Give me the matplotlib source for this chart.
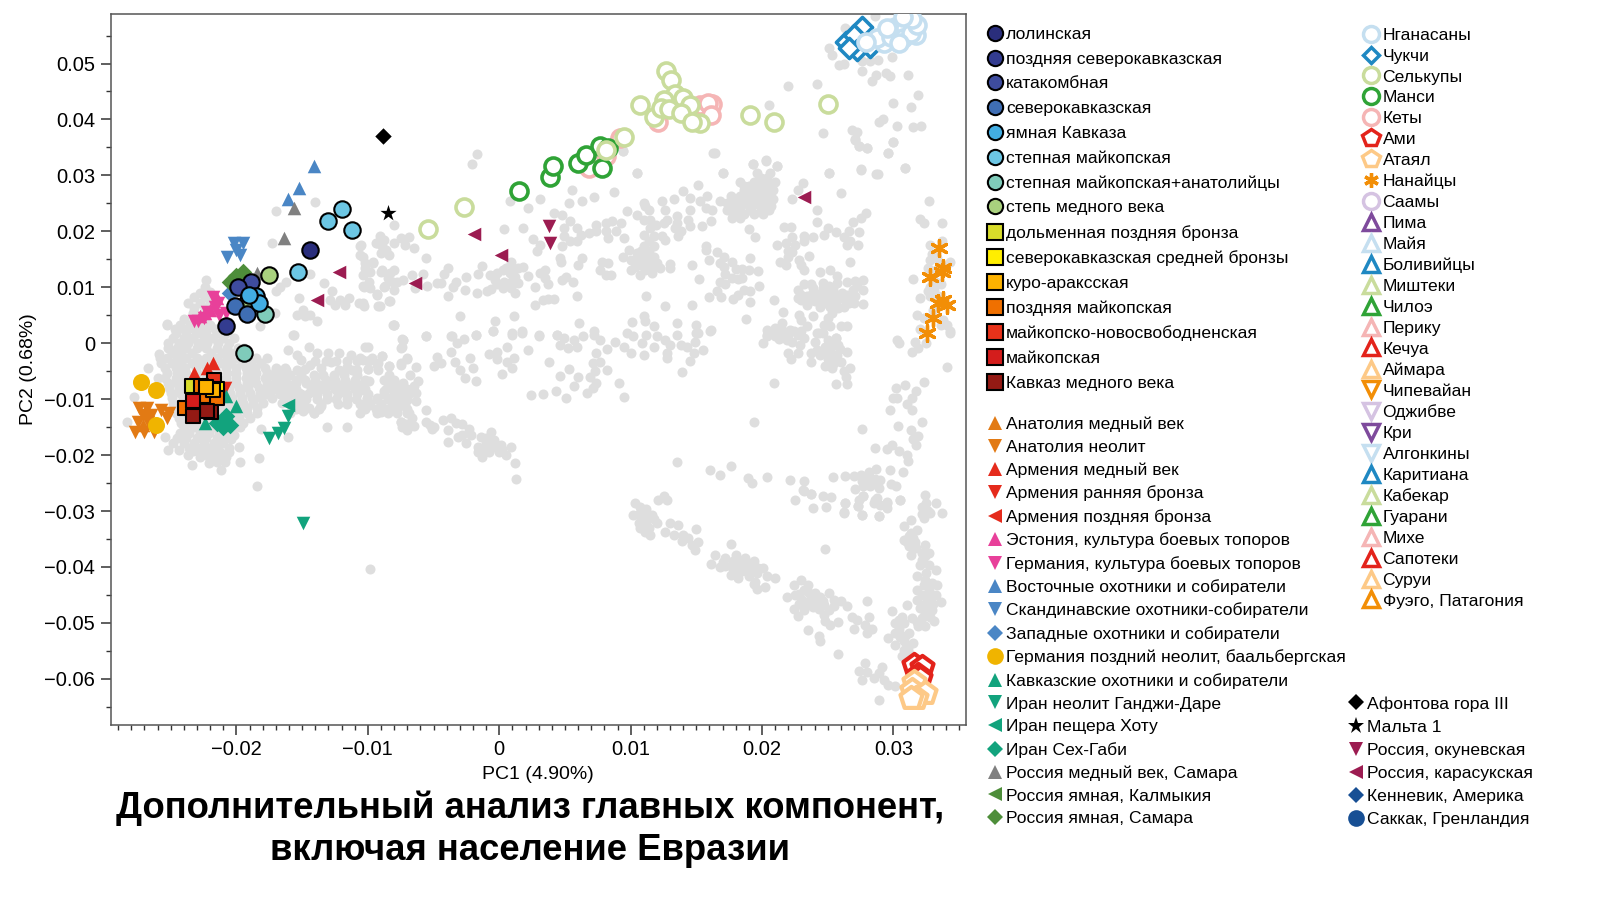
import matplotlib
matplotlib.use("Agg")
import matplotlib.pyplot as plt
from matplotlib.lines import Line2D
from matplotlib.ticker import MultipleLocator, FuncFormatter

plt.rcParams['font.family'] = ['Liberation Sans', 'DejaVu Sans']

# all PC values below are in thousandths
gray_west = [(-22.3,11.3),(-22.8,9),(-22,9.2),(-23.7,7.2),(-22.8,7.2),(-22,7.2),(-23.3,5.4),(-22.5,5.4),(-25.3,3.3),(-24.3,3.3),(-23.5,3.3),(-22.8,3.3),(-22,3.3),
(-24.6,1.8),(-23.8,1.8),(-23,1.8),(-22.3,1.8),(-21.5,1.8),(-20.8,1.8),(-25.2,0),(-24.4,0),(-23.7,0),(-22.9,0),(-22.2,0),(-21.4,0),(-20.6,0),
(-25.9,-1.9),(-24.9,-1.8),(-24.2,-1.8),(-23.4,-1.8),(-21.9,-1.8),(-21.1,-1.8),(-20.4,-1.8),(-25.7,-3.6),(-24.9,-3.6),(-24.2,-3.6),(-23.4,-3.6),(-22.7,-3.6),(-21.9,-3.6),(-21.1,-3.6),(-20.4,-3.6),(-19.6,-3.6),(-18.9,-3.6),(-18.1,-3.6),
(-25.3,-5.4),(-24.5,-5.4),(-23.8,-5.4),(-23,-5.4),(-22.2,-5.4),(-21.5,-5.4),(-20.7,-5.4),(-20,-5.4),(-19.2,-5.4),(-18.5,-5.4),(-17.7,-5.4),(-17,-5.4),(-16.2,-5.4),
(-25.2,-7.1),(-24.5,-7.1),(-23.8,-7.1),(-23,-7.1),(-22.2,-7.1),(-21.5,-7.1),(-20.7,-7.1),(-20,-7.1),(-19.2,-7.1),(-18.5,-7.1),(-17.7,-7.1),(-17,-7.1),(-16.2,-7.1),(-15.5,-7.1),(-14.7,-7.1),
(-25,-8.9),(-24.3,-8.9),(-23.5,-8.9),(-22.7,-8.9),(-22,-8.9),(-21.2,-8.9),(-20.5,-8.9),(-19.7,-8.9),(-19,-8.9),(-18.2,-8.9),(-17.5,-8.9),(-16.7,-8.9),(-16,-8.9),(-15.2,-8.9),(-14.5,-8.9),
(-24.8,-10.7),(-24,-10.7),(-23.2,-10.7),(-22.5,-10.7),(-21.7,-10.7),(-21,-10.7),(-20.2,-10.7),(-19.5,-10.7),(-18.7,-10.7),(-18,-10.7),(-16.5,-10.7),(-15.7,-10.7),(-14.9,-10.7),
(-24.6,-12.5),(-23.8,-12.5),(-23,-12.5),(-22.3,-12.5),(-21.5,-12.5),(-20.7,-12.5),(-20,-12.5),(-19.2,-12.5),(-18.4,-12.5),(-14.9,-12.2),(-14.1,-12.5),
(-24.2,-14.2),(-23.4,-14.4),(-22.7,-14.5),(-22,-14.4),(-21.2,-14.4),(-20.4,-14.3),(-19.5,-14.2),(-24.3,-16),(-23.6,-16),(-22.8,-16),(-22.1,-16),(-21.3,-16),(-20.6,-16),(-20.2,-16.4),
(-24.8,-17.9),(-24,-17.9),(-23.2,-17.9),(-22.5,-17.9),(-21.7,-17.9),(-21,-17.9),(-19.8,-18.5),(-25.2,-19.1),(-24.4,-19.1),(-23.7,-20),(-23.3,-19.2),(-22.6,-19.4),(-21.9,-19.6),(-21.2,-19.6),(-20.6,-19.4),
(-22.1,-21.5),(-21.5,-21.3),(-20.9,-21.2),(-21.2,-22.7),(-19.7,-21.2),(-23.4,-21.8),(-18.3,-20.6),(-18.4,-25.6),(-18.1,-15.4),(-16.1,-16.8),(-25.4,-16.7),
(-25.3,3.4),(-26.7,-4.5),(-25.8,-2.7),(-26,-6.3),(-27.8,-9.7),(-28.3,-14),(-17,23.7),(-14,25.2),(-17.3,18),(-14.4,12.4),(-13.3,10.7),(-12.7,9.4),(-15.2,8),
(-15.4,5.1),(-14.9,6),(-14.4,5.1),(-13.9,3.9),(-14.8,4.8),(-15.7,1.5),(-16.7,10.1),(-16.2,11),(-17,9.3),(-17.1,5.4),(-18.2,3.1)]

gray_west_fill = [(-22.4,10),(-22.4,8.2),(-23.2,8.2),(-23.2,6.3),(-22.4,6.3),(-21.6,6.3),(-24,4.4),(-23.2,4.4),(-22.4,4.4),(-24.7,2.6),(-24,2.6),(-23.2,2.6),(-22.4,2.6),(-21.6,2.6),
(-24.8,0.9),(-24,0.9),(-23.3,0.9),(-22.5,0.9),(-21.8,0.9),(-21,0.9),(-20.2,0.9),(-25.2,-0.9),(-24.5,-0.9),(-23.8,-0.9),(-23,-0.9),(-22.3,-0.9),(-21.5,-0.9),(-20.7,-0.9),(-19.9,-0.9),(-19.4,-0.9),
(-25.3,-2.7),(-24.5,-2.7),(-23.8,-2.7),(-23,-2.7),(-22.3,-2.7),(-21.5,-2.7),(-20.7,-2.7),(-20,-2.7),(-19.2,-2.7),(-18.5,-2.7),(-17.7,-2.7),
(-25.4,-4.5),(-24.6,-4.5),(-23.9,-4.5),(-23.1,-4.5),(-22.3,-4.5),(-21.6,-4.5),(-20.8,-4.5),(-20,-4.5),(-19.3,-4.5),(-18.6,-4.5),(-17.8,-4.5),(-17,-4.5),(-16.3,-4.5),
(-25.4,-6.2),(-24.6,-6.2),(-23.9,-6.2),(-23.1,-6.2),(-22.3,-6.2),(-21.6,-6.2),(-20.8,-6.2),(-20,-6.2),(-19.3,-6.2),(-18.6,-6.2),(-17.8,-6.2),
(-25.1,-8),(-24.4,-8),(-23.6,-8),(-22.9,-8),(-22.1,-8),(-21.3,-8),(-20.6,-8),(-19.8,-8),(-19.1,-8),(-18.3,-8),(-17.6,-8),
(-24.9,-9.8),(-24.1,-9.8),(-23.4,-9.8),(-22.6,-9.8),(-21.9,-9.8),(-21.1,-9.8),(-20.3,-9.8),(-19.6,-9.8),(-18.8,-9.8),(-18.1,-9.8),(-17.3,-9.8),
(-24.5,-11.6),(-23.7,-11.6),(-22.9,-11.6),(-22.2,-11.6),(-21.4,-11.6),(-20.7,-11.6),(-19.9,-11.6),(-19.2,-11.6),(-18.4,-11.6),(-15.2,-11.6),(-14.5,-11.6),
(-24.4,-13.4),(-23.6,-13.4),(-22.9,-13.4),(-22.1,-13.4),(-21.3,-13.4),(-20.6,-13.4),(-19.8,-13.4),(-19,-13.4),(-24,-15),(-23.2,-15),(-22.4,-15),(-21.7,-15),(-21,-15),(-20.2,-15),(-19.7,-15),
(-24.5,-17),(-23.8,-17),(-23,-17),(-22.3,-17),(-21.5,-17),(-20.8,-17),(-20.4,-17.2),(-23.6,-18.7),(-22.8,-18.7),(-22.1,-18.7),(-21.4,-18.7),(-20.6,-18.7),(-22.8,-20.3),(-22.1,-20.3),(-21.5,-20.3),(-20.8,-20.3)]

gray_band = [(-16.1,-1.3),(-15.4,-2.1),(-14.5,-0.6),(-13.9,-1.8),(-13,-1.8),(-12.2,-1.8),(-11.3,-2.1),(-10.6,-2.7),(-9.8,-3),(-8.9,-2.2),(-8.4,-4.1),(-10,-0.7),(-7.3,0.6),(-7.4,-0.7),(-7,-2.7),(-7.5,-3.9),(-8,3.3),(-15.6,1.5),
(-15.1,-3),(-14.4,-3.9),(-14.8,-4.6),(-13.6,-4.5),(-12.8,-3.3),(-11.6,-4.2),(-10.8,-4.8),(-10,-4.6),(-9.3,-3.9),
(-17.4,-5.6),(-16.7,-5.6),(-15.9,-5.6),(-15.1,-5.6),(-14.1,-5.6),(-13.4,-5.6),(-12.6,-5.6),(-11.8,-5.6),(-10.8,-5.6),(-8.4,-5.6),
(-17.4,-7.4),(-16.7,-7.4),(-15.9,-7.4),(-14.4,-7.4),(-13.6,-7.4),(-12.9,-7.4),(-12.1,-7.4),(-11.3,-7.4),(-10.6,-7.4),(-8.3,-7.4),(-7.5,-7.4),
(-17.7,-9.1),(-16.7,-9.1),(-15.9,-9.1),(-15.1,-9.1),(-13.9,-9.1),(-13.1,-9.1),(-12.3,-9.1),(-11.6,-9.1),(-10.8,-9.1),(-10,-9.1),(-8.8,-9.1),(-8,-9.1),(-7.3,-9.1),
(-15.9,-10.8),(-15.1,-10.8),(-13.6,-10.8),(-12.3,-10.8),(-11.6,-10.8),(-10.6,-10.8),(-9.8,-10.8),(-9,-10.8),(-8,-10.8),(-7.3,-10.8),
(-15.9,-12.5),(-14.1,-12.5),(-10.6,-12.5),(-9.3,-12.5),(-8.5,-12.5),(-7.8,-12.5),(-7,-12.5),(-7.5,-14),(-7.1,-14.5),(-13.1,-14.9),(-11.6,-14.9),(-13.6,-11.3),
(-6.5,-14.8),(-10.6,17.3),(-10.6,15.8),(-10.2,14.3),(-9.6,14.6),(-10.1,12.8),(-10.3,10.1),(-9.8,9.9),(-9.3,17.9),(-8.8,18.5),(-8.6,16.7),(-9,12.8),(-8.3,12.5),(-8.8,10.1),(-8.1,11),
(-12.9,7.8),(-12.1,7.8),(-11.4,8),(-10.7,7.2),(-10.3,6.6),(-11.7,6.9),(-12.5,6.9),(-9.3,8.6),(-8.4,7.5),(-9.2,6.6),(-8.1,3.3)]

gray_band_fill = [(-17,-4.8),(-16.2,-4.8),(-15.4,-4.8),(-12.2,-4.8),(-11.2,-4.8),(-9.2,-4.8),
(-17,-6.5),(-16.3,-6.5),(-15.5,-6.5),(-14.8,-6.5),(-14,-6.5),(-13.2,-6.5),(-12.5,-6.5),(-11.7,-6.5),(-11,-6.5),(-10.2,-6.5),(-8.8,-6.5),(-8,-6.5),
(-17.2,-8.2),(-16.3,-8.2),(-15.5,-8.2),(-14,-8.2),(-13.3,-8.2),(-12.5,-8.2),(-11.7,-8.2),(-11,-8.2),(-10.2,-8.2),(-8.6,-8.2),(-7.8,-8.2),(-7,-8.2),
(-16.3,-10),(-15.5,-10),(-14.7,-10),(-13.9,-10),(-13.1,-10),(-12.4,-10),(-11.6,-10),(-10.9,-10),(-10.1,-10),(-9.3,-10),(-8.5,-10),(-7.7,-10),(-7,-10),
(-15.5,-11.7),(-13.7,-11.7),(-10.2,-11.7),(-9.4,-11.7),(-8.6,-11.7),(-7.8,-11.7),(-7,-11.7),(-14,-3.2),(-13.2,-3.2),(-12.4,-3.2),(-11.6,-3.2),(-10.8,-3.2),(-10,-3.2)]

gray_center = [(-1.7,33.8),(-2.1,32.1),(-8,21.1),(-9.1,19.1),(-9.4,17.9),(-8.9,17.3),(-9,16.1),(-8.4,15.8),(-8,17.9),(-7.5,18.8),(-6.9,18.9),(-7.2,17.6),(-6.5,17),(-10.5,17.6),
(-10.4,15.5),(-9.6,14.3),(-10.2,13.4),(-9.8,12.8),(-10.4,12.2),(-9.9,11),(-10.4,10.2),(-8.9,13.1),(-8,13),(-8.5,11.6),(-8.7,10.2),(-8,9.6),(-7.8,11),(-7.3,11.3),(-6.6,12.2),(-5.8,12.4),(-5.6,15.2),(-5.5,10.2),(-6.4,9.9),(-9.3,8.8),(-8.3,7.5),(-9.1,6.6),(-10.4,7.2),
(-4.7,10.7),(-4.4,10.7),(-4.2,12.4),(-3.9,13.4),(-3.3,11),(-3.5,10),(-3.9,8.5),(-2.5,11.9),(-2.6,9.6),(-1.7,9),(-1.6,12.4),(-1.3,13.8),(-0.9,9.4),(-0.6,9.7),
(-0.7,12.2),(-0.2,12.5),(0.3,13.1),(0.9,14.6),(1.4,13.4),(1.8,13.7),(-0.3,11.3),(0.8,12.5),(1.2,11.9),(1.4,10.8),(-0.2,10.5),(0.3,9.9),(0.9,9.9),(1.2,9),(0.9,11),(2.2,12.1),(2.7,10),(0.5,13.4),(1,13.2),(0.4,11),
(0.4,20.5),(1.8,20.6),(0.8,25.4),(2.2,24.2),(3.1,25.8),(2.6,18.7),(3.1,17.6),(2.9,16.4),(4.8,17.3),(4.6,15.2),(4.7,14.6),(6.3,15.2),(6,13.9),(3.1,12.5),(3.5,13.1),(3.5,11.6),(3.7,10.6),(4.8,11.3),(5.1,11.9),(5.6,10.9),(5.9,8.5),(2.7,6.9),(3.3,7.8),(3.7,7.9),(4.2,7.9),
(5.5,27.4),(5.3,25.1),(6.3,25.5),(7.2,26.1),(8.7,27),(10.5,30.4),(9.7,23.6),(9.4,34.3),(4.2,23.3),(4.8,23),
(5.4,21.8),(4.9,20.6),(5.9,20.6),(6.2,19.4),(4.9,19.1),(5.4,18.2),(5.9,18.2),(6.8,19.7),(7.4,21.2),(7.4,20),(8.1,21.5),(8.6,21.8),(8.1,20),(8.3,18.8),(8.9,20),(9.5,18.8),(9.3,21.5),
(7.8,14.6),(8.3,14.3),(7.7,13.1),(8.1,12.2),(8.5,12.2),(11,25.1),(11.4,23.9),(10.5,23),(11,22.1),(11.9,21.2),(11.5,20.6),(11,19.4),(11.8,19.1),(11.5,22),(11.1,24.5),(11.4,18.2),
(9.9,16.7),(9.4,15.5),(10,14.9),(10.5,16.1),(11,17.3),(11.8,17.3),(11,15.5),(11.8,15.5),(10.5,14.3),(11.2,14.3),(12,14.3),(10,13.1),(10.7,12.2),(11.6,12.5),(11.1,13.1),(10.8,16.4),(11.4,16.4),(10.6,14.9),(11.4,14.9),(10.3,13.6),(11,13.6),(11.7,13.6),
(11.2,8.5),(11,4.8),(11.1,3.9),(10.1,3.8),(-3,4.8),(-8,3.2),(1.1,4.8),(-0.3,3.9),(-0.5,2.1),(1.7,2.2),(1,1.9),(6.1,3.6),(4.4,1.4),(3,1.4),(-1.8,1.4),(-3.7,1.2),(-5.6,1.2),(-7.4,0.7),(7.2,2.1),(9.7,1.8),(11.8,3)]

gray_asia = [(16.4,34),(19.3,32),(20.3,32.7),(21.1,31.6),(17,30.5),(15.1,28.2),(13.3,25.8),(12.4,25.5),(14,27.2),(14.5,26),(15.3,25.4),(15.8,26.3),(16.2,23.9),(16.8,25.4),(15.7,24.2),
(19.6,30.4),(20.6,30.4),(18.3,28.9),(19.4,28.9),(20.1,28.9),(21,28.9),(18.6,27.4),(19.4,27.4),(20.1,27.4),(20.8,27.4),(17.6,26.3),(18.3,26.3),(19.1,26.3),(19.9,26.3),(20.6,26.3),
(17.3,25),(18.1,25),(18.9,25),(19.6,25),(20.4,25),(17.3,23.9),(18.2,23.9),(19.1,23.9),(19.9,23.9),(20.5,23.9),(17.7,22.4),(18.3,22.4),
(19.9,29.6),(20.4,29.6),(18.6,28.1),(19,28.1),(19.8,28.1),(20.5,28.1),(18.9,26.9),(19.7,26.9),(20.4,26.9),(17.9,25.7),(18.7,25.7),(19.4,25.7),(20.2,25.7),(20.8,25.7),(17.6,24.5),(18.4,24.5),(19.2,24.5),(20,24.5),(20.7,24.5),(17.8,23.1),(18.6,23.1),(19.4,23.1),(20.1,23.1),
(23.1,28.6),(22.7,27.4),(22.3,25.7),(25.1,30.4),(27.5,31.1),(28.7,30.3),(30.9,31.4),(26,26.9),(29.6,34),(30,35.9),(28,34.9),(27.4,35.2),(27.1,36.3),(32.7,25.5),(24.2,23.8),(24.2,21.6),(32,22.2),(32.3,21.5),(33.7,21.5),
(27.9,23.2),(27.5,22.4),(26.9,21.6),(12.6,23.9),(12.5,21.5),(12.8,22.1),(13.5,22.7),(13.5,21.5),(14.5,23.8),(14.4,22.1),(14.5,20.9),(13.4,20.6),(13.8,20),(13.6,19.1),(15.4,21),(16.1,21.8),(12.4,19.1),(12.6,18.5),(19,20.5),(19.5,19),
(15.7,17.4),(15.7,16.7),(16.6,16.3),(17.1,15.5),(19.1,15.2),(16,14.8),(14.7,13.9),(16.8,14.3),(17.1,13.7),(17.7,14.6),(18,13.3),(18.5,13.3),(19,13),(19.7,12.9),(17.2,12.4),(17.7,11.6),(18.2,11.5),(18.5,11.6),(15.2,11.4),(16.8,11),(17.2,10.5),(19.8,10.2),(18.6,9.6),(19.1,9.3),(18.2,8.7),(17.8,7.9),(19.05,7.4),(16.6,9.3),(16.9,8.2),(16,8.2),(20.9,7.8),(14.7,6.9),(12.6,6.6),(13,14.2),(13,13.4),(12.25,13.4),(18.8,4.3),(13.5,3.6),(15,3.3),(15,1.8),(16.1,2.3),
(21.1,17.6),(21.8,17.9),(22.3,18.9),(22.5,17.6),(23.2,19.1),(23.2,18.3),(23.9,19),(24.7,19.3),(25,20.6),(25.6,19.9),(21.7,20.7),(22.2,20.7),(26.2,19),(26.6,20),(27.4,19.8),(26.7,18.2),(26.5,17.6),(27.3,17.6),
(22,16.4),(22.3,16.3),(21.4,14.6),(21.8,13.9),(22,15.5),(22.8,14.9),(23,13.9),(23.2,13),(23.6,15.6),(26.7,14.5),(24.4,12.8),(25.2,13),(25.7,12.1),(27.7,11.3),(27.05,11.2),(26.5,10.9),(27.2,10.2),(27.7,9.6),(27.7,7),(27.1,8.4),
(23.2,10.6),(23.7,10.5),(24.6,10.8),(22.7,9.6),(25.1,10.2),(25.7,10.8),(22.7,8),(23.4,8.4),(24.05,9),(24.7,9),(25.4,9.3),(26.1,9),(23.4,6.9),(24,7.5),(24.7,7.2),(25.4,7.8),(26.1,8.1),(26.6,7.2),(27,7.2),(25.8,6.3),(25.3,5.4),(25,4.5),(23.9,4.9),
(23.9,9.9),(24.6,9.9),(25.4,9.9),(23,8.7),(23.7,8.7),(24.4,8.7),(25,8.7),(25.7,8.7),(26.5,8.7),(23,7.7),(23.7,7.7),(24.4,7.7),(25,7.7),(25.7,7.7),(24.4,6.5),(25.2,6.5),(26.2,6.5),(26.9,9.5),(26.6,8.3),
(21.6,5.5),(22.8,5),(23,4.2),(23.4,3.1),(21.5,3.6),(21,2.7),(20.4,2.4),(20.4,1.2),(21,1.5),(21.6,2.1),(22.15,2.4),(22.7,1.5),(23,2.1),(24.7,3.2),(25.2,3),(26,3),(26.5,3),(24.2,1.8),(24.6,1.8),(25.6,0.9),(21.3,0.8),(21.9,0.6),(20.7,1.9),(22,1.5),(23.2,1),
(31.5,11.5),(33.7,18.2),(32.8,17.6),(32.8,14.9),(33.3,15.2),(34.3,14.6),(32.6,13.4),(33.1,9.6),(32.6,9.3),(32.05,8.1),(33.6,10.5),(32.8,8.4),(31.8,5.1),(32.3,4.5),(33.8,4.2),(34.1,3.3),(34.3,1.9),(32.05,2.5),(33.6,3.3),(30.3,0.6),
(33.2,11),(33.4,8.5),(32.8,10),(33,6),(33.6,14),(33.2,13),(32.9,16)]

gray_south = [(-10.2,-0.7),(-7.3,0.6),(-7.5,-0.8),(-5.6,1.2),(-3.6,1.2),(-3.2,0),(-2.7,0.8),(-1.8,1.4),(-0.5,2.1),(-3.7,-1.5),(-4.7,-2.4),(-4.4,-3.6),(-5,-4),(-3.4,-3.3),(-2.2,-2.7),(-2,-4.5),(-3,-4.8),(-2.6,-6.2),(-1.8,-6.7),(-0.8,-1.9),(-0.2,-1.5),(-0.2,-2.8),(0.6,-0.6),(1.1,-2.6),(0.6,-3.4),(1,-4.5),(0.2,-5.5),(1,1.5),(1.7,1.9),(2.2,-1.3),(3,1.2),(3.8,-3.3),(4.4,1.4),(5.3,-4.6),(4.65,-5.8),(6,-6),(5.7,-7.7),(4.3,-8.5),(3.3,-9.1),(2.4,-9.3),(5.1,-9.8),(6.7,-8.9),(7.1,-8),(7.4,-7.1),(6.9,-6),(7.3,-5),(8.2,-4.8),(7.1,-3.6),(7.7,-3.4),(7.4,-1.8),(9.1,-7.1),(9.5,-9.6),
(4.65,-0.3),(5.2,-0.9),(5.9,-0.6),(6.4,1.2),(7.2,1.5),(7.7,0.6),(8.2,-1.1),(4.9,0.9),(5.7,0.6),(8.8,0.3),(9.5,-0.6),(10,-1.8),(11,-2.1),(10.2,1.2),(10.9,0),(11.8,-0.6),(11.2,1.5),(12,1.2),
(-10.4,-3),(-9.7,-2.7),(-8.9,-2.2),(-9.2,-3.6),(-8.4,-4),(-10,-4.6),(-7.5,-3.6),(-7,-2.8),(-6.3,-4.2),(-8.4,-6),(-6.8,-5.6),(-6.2,-6.7),
(-9.9,-6.8),(-8,-6.8),(-7.3,-7.1),(-6.5,-7.7),(-6.3,-8.9),(-10.3,-8.3),(-8.8,-8.6),(-8,-8),(-7.3,-8.6),(-6.8,-8.9),(-10.1,-9.8),(-9.3,-9.8),(-8.5,-9.8),(-7.8,-9.8),(-7,-10.1),(-6.3,-10.3),(-10.4,-11.6),(-9.9,-11),(-9,-11.3),(-8.3,-11.6),(-7.8,-12.2),(-9,-12.3),(-7.2,-11.3),(-6.9,-12.5),(-6.6,-13.4),
(-7.5,-14),(-7.4,-14.9),(-7,-15.6),(-5.6,-11.9),(-5.6,-14),(-5.3,-14.6),(-5,-14.9),(-5.1,-15.4),(-4.3,-13.7),(-3.7,-13.4),(-3.3,-14.3),(-2.8,-14.5),(-2.3,-15.3),(-3.9,-15.5),(-3.1,-16.7),(-2.8,-16.4),(-2.15,-16.4),(-3.9,-17.6),(-2.5,-17.9),
(-1.4,-16.7),(-0.6,-15.9),(-1,-17.9),(-0.4,-17.3),(0.1,-18.2),(-1.6,-19.4),(-1.3,-20.3),(-0.7,-18.8),(-0.05,-19.4),(0.5,-20),(0.9,-18.5),(1.2,-21.5),(1.3,-24.2),(-9.8,-40.3),
(-1,-17),(-0.7,-17),(-0.3,-18.5),(-1.2,-18.8),(-0.8,-19.4),(0.2,-19),(-1.6,-18.5)]

gray_se = [(10.3,-28.6),(10.7,-29.2),(10.2,-30.7),(11,-30.4),(11.6,-30.7),(10.6,-32.2),(11.2,-32.2),(12,-32.2),(11.1,-33.7),(11.5,-34.3),(12.1,-28),(12.5,-27.4),(12.8,-28),(13,-32.2),(13.6,-32.5),(12.6,-33.8),(13.3,-34.2),(15,-33.2),(14,-34.3),(14.4,-34.8),(13.9,-35.4),(15.1,-35.6),(14.7,-36),(14.9,-37),(17.6,-35.9),
(10.7,-30.4),(11.3,-31.2),(10.8,-31.2),(11.2,-29.7),(10.7,-33),(11.4,-33),(11.8,-31.5),
(16.4,-37.8),(16.1,-39.4),(16.8,-40),(17.2,-38.4),(18,-37.8),(18.7,-38.4),(19.4,-39),(17.6,-39.9),(18.3,-39.9),(19.2,-40.5),(20.1,-40.2),(17.6,-41.4),(18.2,-42),(19,-41.7),(19.5,-42.6),(19.6,-44),(20.25,-43.6),(20.4,-41.7),(21,-42),
(17.2,-39.9),(17,-39.2),(17.8,-39),(18.4,-39),(19,-39.4),(18.5,-40.8),(17.9,-41),(18.8,-40.5),(19.7,-40.2),(19.6,-41),(19.4,-43),
(22.4,-43.2),(23,-42.3),(23.5,-43.2),(21.9,-45.3),(22.5,-45),(23.2,-44.1),(23.05,-45.9),(23.7,-45.3),(24.4,-45.3),(25.1,-44.7),(26,-46.1),(26.5,-46.9),(25.5,-45.9),(22.4,-47.5),(23.2,-47.7),(23.9,-47.1),(24.7,-46.8),(25.1,-47.7),(22.7,-48.7),(24.7,-48.6),(24.8,-49.6),(25.2,-50.4),(25.8,-49.8),(23.5,-51.2),(24.3,-52.4),(24.4,-53.2),(25.8,-55.6),(26.85,-48.9),(27.2,-49.5),(28,-46.1),(28.1,-48.9),(27.8,-50.4),(27,-51.1),(28,-51.8),(28.4,-51),
(22.8,-44.8),(23.5,-44.5),(24,-44.6),(24.6,-46),(24,-46.2),(23.4,-46.5),(22.8,-46.6),(24.3,-47.5),(25.5,-47),
(27.8,-57.1),(27.4,-58.6),(28,-58.7),(27.6,-60.2),(29.1,-57.8),(28.9,-59),(28.5,-59.9),(29.3,-60.2),(29.6,-61.1),(30.15,-61.3),(28.9,-63.8),
(32.4,-27.1),(32.2,-29.2),(33.2,-28.6),(32.8,-30.4),(33.7,-30.4),(32.3,-31.3),(31.3,-31.6),(30.8,-32.6),(31.8,-33.4),(30.8,-35.1),(31.5,-34.8),(31.2,-36.3),(31.7,-36.6),(31.3,-37.8),(32.4,-36),(32.7,-37.5),(32.2,-37.5),(32.05,-39.6),(32.7,-39.6),(33.2,-40.5),(31.8,-41.7),(32.4,-42.3),(33.3,-43.2),(31.8,-44.1),(32.7,-44.1),(31.8,-45.9),(32.7,-45.9),(33.6,-46.2),(32.05,-47.4),(32.9,-47.7),(31,-46.8),(29.9,-47.8),(31.4,-49.2),(32.2,-49.2),(33.1,-49.6),(31.9,-50.6),(32.4,-50.6),(30.65,-48.9),(30.15,-50),(30.8,-50),(31.2,-51.8),(30.15,-51.8),(29.6,-52.7),(30.15,-54),(30.8,-53.3),(31.5,-53.6),(30.65,-56),(31.2,-55.4),(30.8,-54.8),
(32.5,-28.5),(32.6,-30),(32.2,-30.5),(31.2,-34.5),(31,-35.6),(31.6,-35.6),(31.3,-33.9),(32.2,-38.7),(32.4,-38),(32.5,-41),(32.3,-43.2),(32.9,-42.8),(32.2,-45),(32.8,-45),(33.2,-45),(32.4,-46.6),(33,-46.6),(32.4,-48.2),(31.8,-49.9),(32.8,-49),(30.4,-49.4),(30.4,-51),(30.5,-52.5),(30.9,-52.4),(31.1,-54.5),
(22.5,-28),(23.2,-26.5),(23.7,-26.9),(24.6,-27.3),(25.25,-27.5),(23.9,-29.4),(24.9,-29.3),(26.3,-28.6),(26.2,-30.3),(27.6,-30.7),(27.3,-29.1),(27.7,-27.4),(28.9,-30.9),(28.6,-28),(29.5,-28.6),(29,-28.9),(30.5,-28),(24.8,-36.7),
(12.6,0.6),(13.5,1.5),(13,-0.3),(13.8,-0.3),(14.3,-0.6),(14.9,0.3),(15.1,1.8),(16.05,2.2),(15.5,-1.3),(14.8,-1.8),(12.8,-1.8),(12.8,-2.7),(14.5,-3.1),(13.9,-5.2),(20.9,-7.1),(19.4,-14.1),(13.5,-21.2),(16.05,-22.6),(16.8,-23.6),(17.6,-22),(18.9,-24.1),(19.2,-25),(20.4,-24),(22.1,-24.4),(23.2,-24.6),(23.1,-26.3),(23.7,-26.9),
(25.4,-23.9),(26.3,-23.8),(27,-23.7),(27.5,-23.5),(28.1,-23.1),(28.7,-22.5),(29.7,-22.6),(30.7,-23),(27.6,-24.7),(28.4,-25),(29,-24.4),(27.1,-26.1),(27.7,-25.6),(28.9,-25.9),(29.8,-25.1),(30.2,-25.6),(27.7,-27.4),(27.4,-28),(28.75,-27.7),(29.5,-28.3),(28.5,-28.6),(29.5,-29.4),(30.5,-28),(27.3,-29.1),(26.3,-28.6),(26.2,-30.1),(27.6,-30.7),(28.9,-30.9),(28,-24.2),(28.6,-24.3),(28.2,-25.6),(27.9,-25.1),
(28.6,-18.7),(29.5,-19),(29.9,-18.2),(30.4,-19.2),(31,-20),(31.1,-21),(27.6,-15.3),(30.35,-14.8),(31.3,-15.6),(31.85,-16.6),(31.5,-17.2),(31.7,-18.2),(32.2,-14.1),
(30.2,-8),(30,-9.8),(30.3,-9.8),(30.9,-7.4),(32.3,-6.9),(31.7,-8.6),(31.4,-9.8),(31,-10.8),(31.4,-11.9),(29.7,-12),(34.1,-4.3),(30.4,0.1),(31.6,0.3),(31.9,-0.9),(31.4,-1.5),(32.5,0.1),(34.3,2.1),
(20.1,0),(20.4,1.5),(21,1.2),(21.6,1.5),(22.4,2.1),(22.3,0.3),(22.9,-0.3),(22,-1.8),(22.2,-2.8),(22.7,-1.8),(24.05,0.3),(24.35,1.8),(25.6,0.9),(25.8,-0.3),(24.8,-0.6),(24.2,-1.2),(23.7,-1.8),(24.8,-1.5),(23.7,-3.3),(24.4,-2.1),(25.7,-2.1),(26.5,-1.5),(24.8,-4),(25.45,-3.6),(26,-3.3),(26.7,-4.5),(25.3,-4.5),(26.2,-5),(26.4,-6),(26.5,-7.3),(25.6,-7.3),
(25,0.5),(25.3,-0.5),(25.2,-1.2),(25.9,-1),(25,-2.8),(25.4,-2.8)]

gray_north = [(28.6,58.5),(26.3,56.3),(25.1,52.7),(25.3,51.5),(25.85,49.8),(26.2,50),(27.6,50.4),(28.2,50.4),(28.8,50.7),(29.9,51.1),(27.6,48.6),(28.7,48),(29.4,48.3),(29.7,47.7),(31.1,47.9),(28.4,46.8),(22,45.9),(24.2,46.4),(31.9,44.4),(30,42.9),(31.3,42.3),(20.5,42.5),(28.9,39.6),(29.2,40),(30.3,38.9),(31.5,38.6),(32.1,38.9),(24.6,37.6),(26.85,38.2),(27.2,37.7),(27.1,36.5),(27.4,35.2),(28,34.9),(30,36),(29.6,34),(16.3,34),(19.3,32),(20.3,32.6),(21.1,31.6),(30.9,31.3),(27.5,31),(28.8,30.3),(25.1,30.4),(17,30.4),(10.5,30.4),(9.4,34.3)]

# filled groups
lolin = [(-14.4,16.6)]
late_nc = [(-20.8,3.1)]
catacomb = [(-18.9,10.9),(-19.9,10)]
north_cauc = [(-20.1,6.7),(-19.2,5.2)]
yamna_cauc = [(-18.5,8.4),(-18.3,7.2),(-19.05,8.65)]
steppe_maikop = [(-15.3,12.8),(-13,21.8),(-12,24),(-11.2,20.3)]
steppe_maikop_an = [(-17.8,5.2),(-19.4,-1.7)]
steppe_eneol = [(-17.5,12.2),(-19.1,7.8)]
dolmen = [(-23.4,-7.6)]
nc_mba = [(-21.5,-8.1)]
kura = [(-21.8,-8.3),(-22.3,-7.9)]
late_maikop = [(-23.9,-11.6),(-22.7,-7.7),(-22.3,-9.5),(-21.5,-9.8)]
maikop_nov = [(-21.7,-6.6)]
maikop = [(-23.3,-10.3)]
cauc_eneol = [(-21.9,-12.3),(-22.2,-12.2),(-23.3,-13.1)]

anat_ch = [(-27.1,-14.6),(-26.9,-11.9)]
anat_n = [(-26.8,-11.6),(-27.1,-12.8),(-26.5,-12.8),(-27.5,-14),(-26.7,-14),(-27.7,-15.8),(-27,-15.8),(-26.3,-15.8),(-25.7,-11.9),(-25.1,-12.5),(-25.3,-13.4),(-27.4,-11.6)]
arm_ch = [(-21.8,-3.6),(-23.2,-5.4),(-22.2,-4.5)]
arm_eba = [(-20.9,-8)]
arm_lba = [(-21.3,-8)]
est_cw = [(-21.5,8),(-22,6),(-22.8,4.8),(-22.4,5.4)]
ger_cw = [(-22.9,3.9),(-21.4,7.2),(-22.5,4.5),(-21.3,5.1),(-21.8,8.3),(-20.8,5.4),(-23.2,3.9),(-22.2,5.6),(-21.6,6.5)]
ehg = [(-14.1,31.7),(-15.2,27.8),(-16.1,25.8)]
shg = [(-20.2,17.9),(-19.5,17.9),(-20,16.7),(-19.7,15.8),(-20.7,15.4)]
whg = [(-20.5,9)]
baalberg = [(-27.25,-6.85),(-26.1,-8.3),(-26.1,-14.6)]
chg = [(-20,-11.3),(-20.8,-9.5),(-22.4,-14.3)]
ganj = [(-14.9,-32.2),(-17.5,-17),(-16.8,-16),(-16.4,-15.2),(-16.1,-13.1)]
hotu = [(-16.1,-11)]
seh_gabi = [(-20.8,-13.1),(-21,-14.9),(-20.5,-14.6),(-21.5,-14.3)]
samara_eneol = [(-15.6,24.2),(-16.4,18.8),(-18.4,12.5)]
kalmyk = [(-20.6,11)]
samara_yam = [(-19.5,12.8),(-20.45,11),(-20,12)]

afontova = [(-8.85,37.1)]
malta = [(-8.45,23.3)]
okunevo = [(3.8,20.9),(3.9,18)]
karasuk = [(-1.9,19.6),(0.1,15.8),(-12.2,12.7),(-13.9,7.8),(-6.4,10.7),(23.2,26.2)]

selkup = [(-5.4,20.4),(-2.7,24.4),(9.5,36.9),(8.1,34.5),(10.7,42.6),(12.7,48.7),(13.1,47),(13.35,44.5),(12.5,43.5),(14,43.8),(14.5,42.6),(11.75,40.4),(12.3,42),(12.9,41.8),(13.8,41.1),(15.3,39.4),(14.7,39.6),(19.1,40.8),(20.9,39.6),(25,42.7)]
mansi = [(1.5,27.2),(3.9,29.8),(4.1,31.7),(6,32.3),(6.6,33.6),(7.8,31.3),(7.7,35.2),(8.3,34.9)]
ket = [(16.2,42.7),(15.3,42.6),(15.9,43),(16.1,40.8),(12.1,39.6),(9.2,36.6),(6.8,31.3),(8.1,33.4)]
nganasan = [(29.3,53.6),(28.75,54.5),(29.8,54.8),(30.15,56.6),(30.9,56.3),(30.7,54.5),(31.7,55.1),(31.3,55.4),(30.4,53.6),(31.8,56.9),(31.4,57.9),(30.7,58.3),(29.5,56.3),(27.9,53.9)]
chukchi = [(26.35,53.8),(27.6,56.6),(27,55.1),(27.2,52.4),(26.6,52.7),(28.25,53)]
ami = [(31.55,-57.5),(32.2,-57.8),(31.9,-59.3),(32.05,-59.9)]
atayal = [(31.55,-60.5),(31.4,-62),(32.4,-62.6),(31.7,-63.5),(31.3,-63.5)]
nanai = [(33.5,17),(32.8,11.9),(33.8,13.4),(33.7,12.8),(33.4,7.2),(33.8,7.8),(34.1,6.8),(33,4.5),(32.55,1.8)]

legend_a_labels = ['лолинская','поздняя северокавказская','катакомбная','северокавказская','ямная Кавказа','степная майкопская','степная майкопская+анатолийцы','степь медного века','дольменная поздняя бронза','северокавказская средней бронзы','куро-араксская','поздняя майкопская','майкопско-новосвободненская','майкопская','Кавказ медного века']
legend_a_colors = ['#2a2e7c','#333c90','#3e4c9e','#3f6eb4','#42ade2','#6cc6e4','#7fcbba','#a9d17e','#d8dc2a','#ffee00','#fdb200','#f07000','#e8321a','#d41d1c','#941a14']
legend_a_markers = ['o']*8 + ['s']*7
legend_a_points = [lolin,late_nc,catacomb,north_cauc,yamna_cauc,steppe_maikop,steppe_maikop_an,steppe_eneol,dolmen,nc_mba,kura,late_maikop,maikop_nov,maikop,cauc_eneol]
square_order = [12,8,9,11,10,13,14]

legend_b_labels = ['Анатолия медный век','Анатолия неолит','Армения медный век','Армения ранняя бронза','Армения поздняя бронза','Эстония, культура боевых топоров','Германия, культура боевых топоров','Восточные охотники и собиратели','Скандинавские охотники-собиратели','Западные охотники и собиратели','Германия поздний неолит, баальбергская','Кавказские охотники и собиратели','Иран неолит Ганджи-Даре','Иран пещера Хоту','Иран Сех-Габи','Россия медный век, Самара','Россия ямная, Калмыкия','Россия ямная, Самара']
legend_b_colors = ['#e27a14','#e27a14','#e52b1c','#e52b1c','#e52b1c','#e8409a','#e8409a','#4a86c5','#4a86c5','#4a86c5','#f0b400','#12a37d','#12a37d','#12a37d','#12a37d','#808080','#4e8e3a','#4e8e3a']
legend_b_markers = ['^','v','^','v','<','^','v','^','v','D','o','^','v','<','D','^','<','D']
legend_b_points = [anat_ch,anat_n,arm_ch,arm_eba,arm_lba,est_cw,ger_cw,ehg,shg,whg,baalberg,chg,ganj,hotu,seh_gabi,samara_eneol,kalmyk,samara_yam]

legend_c_labels = ['Нганасаны','Чукчи','Селькупы','Манси','Кеты','Ами','Атаял','Нанайцы','Саамы','Пима','Майя','Боливийцы','Миштеки','Чилоэ','Перику','Кечуа','Аймара','Чипевайан','Оджибве','Кри','Алгонкины','Каритиана','Кабекар','Гуарани','Михе','Сапотеки','Суруи','Фуэго, Патагония']
legend_c_colors = ['#c5dff0','#1f88c2','#c9dc9c','#2fa336','#f5b5b5','#e3231b','#fdc987','#f28e06','#d5c3e2','#7e4a9c','#c5dff0','#1f88c2','#c9dc9c','#2fa336','#f5b5b5','#e3231b','#fdc987','#f28e06','#d5c3e2','#7e4a9c','#c5dff0','#1f88c2','#c9dc9c','#2fa336','#f5b5b5','#e3231b','#fdc987','#f28e06']
legend_c_markers = ['o','D','o','o','o','p','p',(6,2,0),'o','^','^','^','^','^','^','^','^','v','v','v','v','^','^','^','^','^','^','^']

legend_d_labels = ['Афонтова гора III','Мальта 1','Россия, окуневская','Россия, карасукская','Кенневик, Америка','Саккак, Гренландия']
legend_d_colors = ['#000000','#000000','#9c1c51','#9c1c51','#174f94','#174f94']
legend_d_markers = ['D','*','v','<','D','o']

SCALE = 1000.0

fig = plt.figure(figsize=(16, 8.99), dpi=100)
ax = fig.add_axes([110.5/1600, 1-724.5/899, 855/1600, 710.5/899])
ax.set_xlim(-0.02958, 0.03548)
ax.set_ylim(-0.06816, 0.05885)

def xy(pts):
    return [p[0]/SCALE for p in pts], [p[1]/SCALE for p in pts]

for grp in (gray_west, gray_west_fill, gray_band, gray_band_fill, gray_center, gray_asia, gray_south, gray_se, gray_north):
    x, y = xy(grp)
    ax.scatter(x, y, s=52, c='#dedede', linewidths=0, zorder=1)

# open markers
x, y = xy(chukchi)
ax.scatter(x, y, s=105, marker='D', facecolors='white', edgecolors='#1f88c2', linewidths=2.6, zorder=2)
for pts, col, mk in [(ket,'#f5b5b5','o'),(mansi,'#2fa336','o'),(selkup,'#c9dc9c','o'),(nganasan,'#c5dff0','o')]:
    x, y = xy(pts)
    ax.scatter(x, y, s=150, marker=mk, facecolors='white', edgecolors=col, linewidths=2.6, zorder=3)
for pts, col in [(ami,'#e3231b'),(atayal,'#fdc987')]:
    x, y = xy(pts)
    ax.scatter(x, y, s=280, marker='p', facecolors='white', edgecolors=col, linewidths=3, zorder=3)
x, y = xy(nanai)
ax.scatter(x, y, s=130, marker=(6,2,0), c='#f28e06', linewidths=2.4, zorder=3)

# filled, edge-free markers
for pts, col, mk in zip(legend_b_points, legend_b_colors, legend_b_markers):
    x, y = xy(pts)
    size = {'o':150,'D':80}.get(mk, 95)
    ax.scatter(x, y, s=size, marker=mk, c=col, linewidths=0, zorder=4)
for pts, col, mk, size in [(afontova,'#000000','D',70),(malta,'#000000','*',150),(okunevo,'#9c1c51','v',95),(karasuk,'#9c1c51','<',95)]:
    x, y = xy(pts)
    ax.scatter(x, y, s=size, marker=mk, c=col, linewidths=0, zorder=4)

# black-edged groups
z = 5
for i in [7,6,5,3,2,1,0,4]:
    x, y = xy(legend_a_points[i])
    ax.scatter(x, y, s=140, marker='o', c=legend_a_colors[i], edgecolors='black', linewidths=1.5, zorder=z); z += 0.01
for i in square_order:
    x, y = xy(legend_a_points[i])
    ax.scatter(x, y, s=115, marker='s', c=legend_a_colors[i], edgecolors='black', linewidths=1.5, zorder=z); z += 0.01

for s in ax.spines.values():
    s.set_color('#555555'); s.set_linewidth(1.1)
ax.xaxis.set_major_locator(MultipleLocator(0.01))
ax.xaxis.set_minor_locator(MultipleLocator(0.001))
ax.yaxis.set_major_locator(MultipleLocator(0.01))
ax.yaxis.set_minor_locator(MultipleLocator(0.005))
def fmt(v, pos):
    if abs(v) < 1e-9:
        return '0'
    return f'{v:.2f}'.replace('-', '\u2212')
ax.xaxis.set_major_formatter(FuncFormatter(fmt))
ax.yaxis.set_major_formatter(FuncFormatter(fmt))
ax.tick_params(which='major', length=7, width=1.1, color='#333333', labelsize=14.5, pad=4)
ax.tick_params(which='minor', length=3.5, width=1, color='#333333')
ax.set_xlabel('PC1 (4.90%)', fontsize=14, labelpad=5.2)
ax.set_ylabel('PC2 (0.68%)', fontsize=14, labelpad=5)

def handle(col, mk, kind):
    if kind == 'edge':
        return Line2D([], [], ls='none', marker=mk, mfc=col, mec='black', mew=1.5, ms=11)
    if kind == 'open':
        if mk == (6,2,0):
            return Line2D([], [], ls='none', marker=mk, color=col, mew=2.4, ms=10.5)
        ms = 8.5 if mk == 'D' else (13 if mk == 'p' else 11.5)
        return Line2D([], [], ls='none', marker=mk, mfc='white', mec=col, mew=2.5, ms=ms)
    ms = {'o':12,'D':8.5,'*':12.5}.get(mk, 9.5)
    return Line2D([], [], ls='none', marker=mk, mfc=col, mec=col, mew=0, ms=ms)

common = dict(frameon=False, fontsize=12.6, borderpad=0, borderaxespad=0, handletextpad=0.14,
              handlelength=1.0, handleheight=0.7, loc='upper left', bbox_transform=fig.transFigure)

fig.legend(handles=[handle(c,m,'edge') for c,m in zip(legend_a_colors, legend_a_markers)], labels=legend_a_labels,
           bbox_to_anchor=(986/1600, 1-26.7/899), labelspacing=0.543, **common)
fig.legend(handles=[handle(c,m,'plain') for c,m in zip(legend_b_colors, legend_b_markers)], labels=legend_b_labels,
           bbox_to_anchor=(986/1600, 1-416.7/899), labelspacing=0.432, **common)
fig.legend(handles=[handle(c,m,'open') for c,m in zip(legend_c_colors, legend_c_markers)], labels=legend_c_labels,
           bbox_to_anchor=(1362.6/1600, 1-27.5/899), labelspacing=0.322, **common)
fig.legend(handles=[handle(c,m,'plain') for c,m in zip(legend_d_colors, legend_d_markers)], labels=legend_d_labels,
           bbox_to_anchor=(1347/1600, 1-696/899), labelspacing=0.454, **common)

fig.suptitle('Дополнительный анализ главных компонент,\nвключая население Евразии', x=530/1600, y=1-790/899,
             ha='center', va='top', fontsize=26.3, fontweight='bold', linespacing=1.28)

fig.savefig('out.png', dpi=100, facecolor='white')
